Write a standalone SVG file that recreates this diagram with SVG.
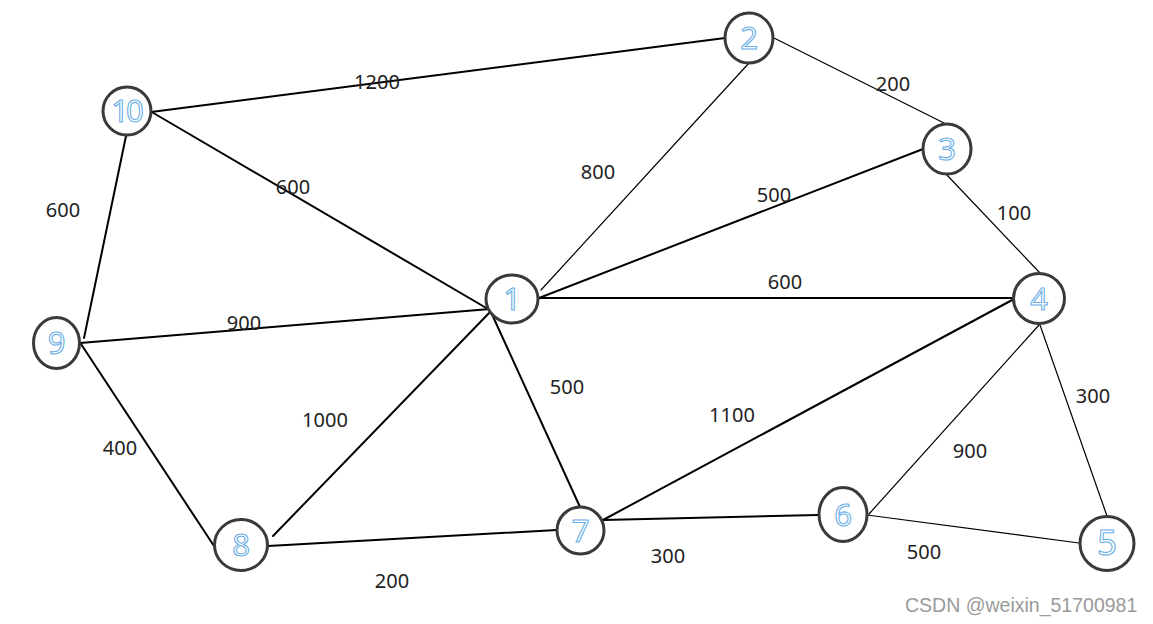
<svg xmlns="http://www.w3.org/2000/svg" width="1153" height="624" viewBox="0 0 1153 624">
<style>
.e{stroke:#000;stroke-width:2;fill:none;stroke-linecap:round}
.t{stroke-width:1.2}
.n ellipse{fill:#fff;stroke:#3a3a3a;stroke-width:3}
.n text{font-family:"Noto Sans","DejaVu Sans",sans-serif;font-size:31px;fill:#fff;stroke:#6aaee6;stroke-width:1.1;text-anchor:middle}
.w{font-family:"Noto Sans","Liberation Sans",sans-serif;font-size:20px;fill:#222;text-anchor:middle}
.wm{font-family:"Liberation Sans",Arial,sans-serif;font-size:19.5px;fill:#9a9a9a}
</style>
<rect width="1153" height="624" fill="#fff"/>
<g id="connectors">
<line class="e" x1="151" y1="112" x2="725" y2="38"/>
<line class="e" x1="150" y1="111" x2="488" y2="309"/>
<line class="e" x1="126" y1="136" x2="84" y2="338"/>
<line class="e" x1="80" y1="343" x2="490" y2="309"/>
<line class="e" x1="81" y1="344" x2="214" y2="546"/>
<line class="e" x1="273" y1="536" x2="492" y2="310"/>
<line class="e" x1="268" y1="546" x2="557" y2="530"/>
<line class="e" x1="490" y1="310" x2="580" y2="507"/>
<line class="e t" x1="541" y1="290" x2="749" y2="63"/>
<line class="e" x1="539" y1="298" x2="923" y2="149"/>
<line class="e" x1="539" y1="298" x2="1014" y2="298"/>
<line class="e t" x1="774" y1="38" x2="946" y2="124"/>
<line class="e t" x1="946" y1="174" x2="1040" y2="273"/>
<line class="e" x1="1014" y1="299" x2="603" y2="520"/>
<line class="e" x1="603" y1="520" x2="818" y2="515"/>
<line class="e t" x1="1039" y1="325" x2="869" y2="514"/>
<line class="e t" x1="1040" y1="325" x2="1107" y2="516"/>
<line class="e t" x1="867" y1="515" x2="1079" y2="543"/>
</g>
<g id="weights">
<text class="w" x="377" y="89">1200</text>
<text class="w" x="293" y="194">600</text>
<text class="w" x="63" y="217">600</text>
<text class="w" x="244" y="330">900</text>
<text class="w" x="120" y="455">400</text>
<text class="w" x="325" y="427">1000</text>
<text class="w" x="392" y="588">200</text>
<text class="w" x="567" y="394">500</text>
<text class="w" x="598" y="179">800</text>
<text class="w" x="774" y="202">500</text>
<text class="w" x="785" y="289">600</text>
<text class="w" x="893" y="91">200</text>
<text class="w" x="1014" y="220">100</text>
<text class="w" x="732" y="422">1100</text>
<text class="w" x="668" y="563">300</text>
<text class="w" x="970" y="458">900</text>
<text class="w" x="1093" y="403">300</text>
<text class="w" x="924" y="559">500</text>
</g>
<g id="node1" class="n"><ellipse cx="512" cy="299" rx="26" ry="24"/><text x="512" y="310">1</text></g>
<g id="node2" class="n"><ellipse cx="749" cy="38" rx="24" ry="25"/><text x="749" y="49">2</text></g>
<g id="node3" class="n"><ellipse cx="947" cy="149" rx="24" ry="25"/><text x="947" y="160">3</text></g>
<g id="node4" class="n"><ellipse cx="1039" cy="298.5" rx="25.5" ry="25"/><text x="1039" y="310">4</text></g>
<g id="node5" class="n"><ellipse cx="1107" cy="543.5" rx="27" ry="27"/><text x="1107" y="555" style="font-size:35px">5</text></g>
<g id="node6" class="n"><ellipse cx="843" cy="514.5" rx="24" ry="27"/><text x="843" y="526">6</text></g>
<g id="node7" class="n"><ellipse cx="580.5" cy="530.5" rx="23.5" ry="23.5"/><text x="580.5" y="542">7</text></g>
<g id="node8" class="n"><ellipse cx="241" cy="545" rx="26.5" ry="25.5"/><text x="241" y="556">8</text></g>
<g id="node9" class="n"><ellipse cx="56.5" cy="343" rx="23" ry="25.5"/><text x="56.5" y="354">9</text></g>
<g id="node10" class="n"><ellipse cx="127" cy="111" rx="24" ry="24"/><text x="126" y="122" style="letter-spacing:-3px">10</text></g>
<text class="wm" x="905" y="612">CSDN @weixin_51700981</text>
</svg>
